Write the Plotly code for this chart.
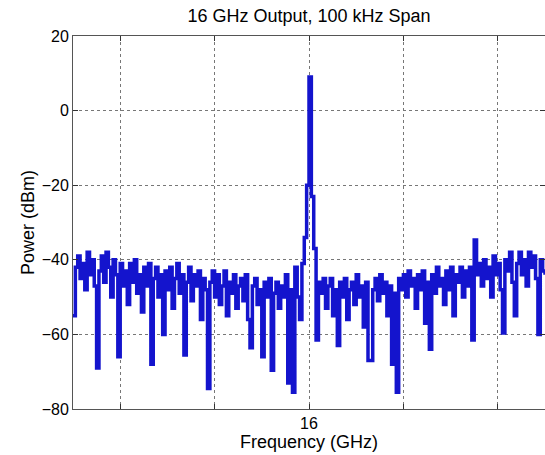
import plotly.graph_objects as go

# Frequency offsets from 16 GHz, in kHz (100 kHz span, 201 points)
offset_khz = [(-50 + 0.5 * i) for i in range(201)]
freq_ghz = [16 + o / 1e6 for o in offset_khz]

power_dbm = [
    -55, -42, -39, -45, -41, -48, -38, -44, -40, -47,
    -69, -43, -39, -46, -38, -42, -50, -40, -44, -66,
    -41, -47, -43, -52, -41, -46, -40, -49, -44, -54,
    -42, -47, -41, -68, -45, -42, -50, -44, -60, -43,
    -48, -42, -53, -45, -41, -49, -44, -65.5, -46, -42,
    -51, -44, -47, -43, -56, -45, -48, -74.5, -46, -43,
    -50, -44, -52, -47, -43, -55, -46, -49, -44, -53,
    -47, -45, -51, -44, -56, -63.6, -47, -45, -52, -48,
    -66, -46, -50, -45, -69.6, -49, -46, -53, -47, -50,
    -44, -73, -48, -75.5, -42, -50, -56, -41, -34, -20,
    9, -23, -37, -61.5, -46, -49, -45, -53, -47, -45,
    -55, -48, -63, -46, -50, -45, -56, -48, -46, -52,
    -44, -50, -47, -58, -46, -67, -67, -48, -45, -51,
    -44, -49, -46, -55, -47, -68, -49, -75.5, -45, -48,
    -44, -50, -43, -47, -45, -53, -44, -48, -43, -57,
    -46, -64, -44, -49, -42, -47, -45, -52, -43, -48,
    -42, -55, -44, -46, -42, -50, -43, -47, -42, -61.5,
    -34.7, -44, -41, -47, -40, -45, -42, -50, -39, -44,
    -41, -48, -59.6, -40, -43, -38, -46, -55, -41, -38,
    -44, -40, -47, -38, -42, -39, -45, -60, -40, -43,
    -44,
]

x_tick_vals = [16 - 40e-6, 16 - 20e-6, 16.0, 16 + 20e-6, 16 + 40e-6]
x_tick_text = ["", "", "16", "", ""]
y_tick_vals = [-80, -60, -40, -20, 0, 20]

font_family = "Liberation Sans, Arial, sans-serif"

fig = go.Figure()
fig.add_trace(go.Scatter(
    x=freq_ghz, y=power_dbm, mode="lines",
    line=dict(color="rgb(20,20,205)", width=3.5, shape="hv"),
    showlegend=False,
))

axis_common = dict(
    showline=True, linecolor="#555555", linewidth=1, mirror="ticks",
    ticks="inside", ticklen=5, tickcolor="#333333",
    showgrid=True, gridcolor="#777777", griddash="dot", gridwidth=1,
    zeroline=False, automargin=False,
    tickfont=dict(family=font_family, size=16, color="black"),
)

fig.update_layout(
    width=545, height=455,
    margin=dict(l=73, r=0, t=36, b=46),
    paper_bgcolor="white", plot_bgcolor="white",
    font=dict(family=font_family, color="black"),
    title=dict(
        text="16 GHz Output, 100 kHz Span",
        x=0.5, xref="paper", xanchor="center",
        y=1 - 16 / 455, yref="container", yanchor="middle",
        font=dict(family=font_family, size=18, color="black"),
    ),
    xaxis=dict(
        range=[16 - 50e-6, 16 + 50e-6],
        tickmode="array", tickvals=x_tick_vals, ticktext=x_tick_text,
        title=dict(text="Frequency (GHz)", standoff=4,
                   font=dict(family=font_family, size=18, color="black")),
        **axis_common,
    ),
    yaxis=dict(
        range=[-80, 20],
        tickmode="array", tickvals=y_tick_vals,
        title=dict(text="Power (dBm)", standoff=2,
                   font=dict(family=font_family, size=18, color="black")),
        **axis_common,
    ),
)

fig.write_html(
    "out.html",
    config={"displayModeBar": False},
    post_script="document.body.style.margin='0';document.body.style.overflow='hidden';",
)
